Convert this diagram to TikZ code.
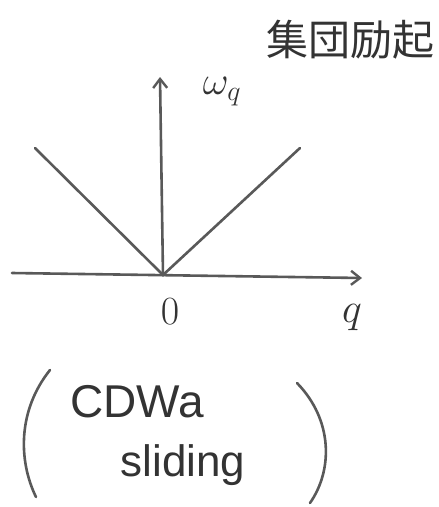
\RequirePackage{fix-cm}
\documentclass[tikz,border=0pt]{standalone}
\usepackage{fontspec}
\newfontfamily\cjk{Noto Sans CJK JP}
\newfontfamily\hand{Liberation Sans}
\usetikzlibrary{arrows.meta}
\begin{document}
\begin{tikzpicture}[x=1pt,y=-1pt,
  ln/.style={line width=2.6pt,color=black!65,line cap=round},
  ax/.style={ln,-{Straight Barb[length=9pt,width=14pt,line width=2.4pt]}},
  lbl/.style={inner sep=0pt,text=black!80}]
\useasboundingbox (0,0) rectangle (439,507);
\coordinate (O) at (163,275);
\coordinate (xs) at (12,273);
\coordinate (xe) at (362,278);
\coordinate (ye) at (160,77);
\coordinate (l) at (35,148);
\coordinate (r) at (300,148);
\draw[ax] (xs) -- (xe);
\draw[ax] (O) -- (ye);
\draw[ln] (l) -- (O) -- (r);
\node[lbl,font=\fontsize{40}{40}\selectfont] (om) at (222,92) {$\omega_q$};
\node[lbl,font=\fontsize{40}{40}\selectfont] (zero) at (170,312) {$0$};
\node[lbl,font=\fontsize{42}{42}\selectfont] (q) at (352,318) {$q$};
\node[lbl,font=\cjk\fontsize{42}{42}\selectfont] (ce) at (350,40) {集団励起};
\node[lbl,font=\hand\fontsize{46}{46}\selectfont] (cdw) at (137,402) {CDWa};
\node[lbl,font=\hand\fontsize{44}{44}\selectfont] (sl) at (183,465) {sliding};
\draw[ln] (50,370) .. controls (18,410) and (18,460) .. (36,497);
\draw[ln] (297,383) .. controls (333,420) and (333,470) .. (310,503);
\end{tikzpicture}
\end{document}
